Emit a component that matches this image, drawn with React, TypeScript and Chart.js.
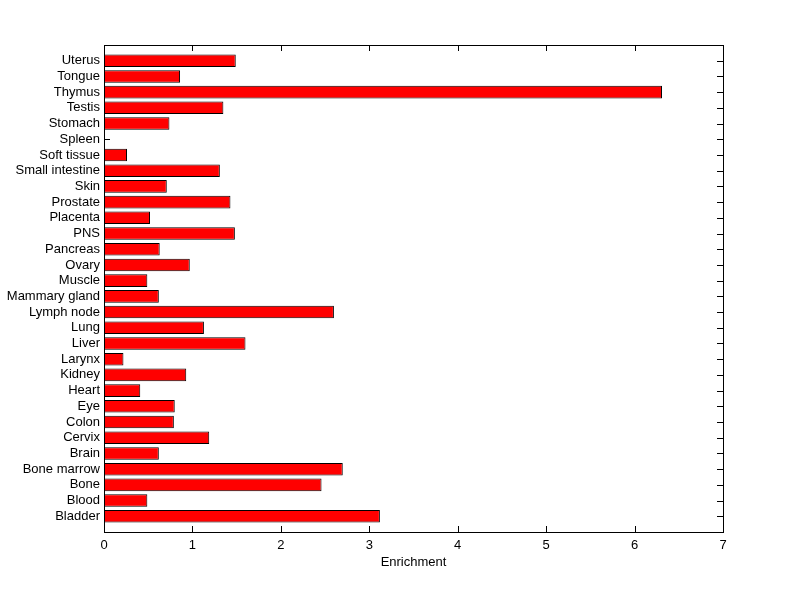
import React, { useEffect, useRef } from "react";
import { Chart, registerables } from "chart.js";

Chart.register(...registerables);

// Categories in bottom-to-top order (as plotted from the origin upward)
const categories: string[] = [
  "Bladder", "Blood", "Bone", "Bone marrow", "Brain", "Cervix", "Colon", "Eye",
  "Heart", "Kidney", "Larynx", "Liver", "Lung", "Lymph node", "Mammary gland",
  "Muscle", "Ovary", "Pancreas", "PNS", "Placenta", "Prostate", "Skin",
  "Small intestine", "Soft tissue", "Spleen", "Stomach", "Testis", "Thymus",
  "Tongue", "Uterus",
];

const enrichment: number[] = [
  3.12, 0.49, 2.46, 2.70, 0.62, 1.19, 0.79, 0.80,
  0.41, 0.93, 0.22, 1.60, 1.13, 2.60, 0.62,
  0.49, 0.97, 0.63, 1.48, 0.52, 1.43, 0.71,
  1.31, 0.26, 0.0, 0.74, 1.35, 6.31,
  0.86, 1.49,
];

const xTicks: number[] = [0, 1, 2, 3, 4, 5, 6, 7];
const xTitle = "Enrichment";

const FONT = '"Liberation Sans", Arial, Helvetica, sans-serif';

export default function App() {
  const ref = useRef<HTMLCanvasElement | null>(null);

  useEffect(() => {
    const canvas = ref.current;
    if (!canvas) return;
    const labels = ["", ...categories, ""];
    const data = [null, ...enrichment, null];

    const boxPlugin = {
      id: "matlabBox",
      beforeDatasetsDraw(chart: any) {
        const ctx = chart.ctx;
        const { left, right, top, bottom } = chart.chartArea;
        const xs = chart.scales.x;
        const ys = chart.scales.y;
        const len = 6;
        ctx.save();
        ctx.strokeStyle = "#000";
        ctx.lineWidth = 1;
        ctx.beginPath();
        xTicks.forEach((v) => {
          const px = Math.round(xs.getPixelForValue(v)) + 0.5;
          ctx.moveTo(px, bottom);
          ctx.lineTo(px, bottom - len);
          ctx.moveTo(px, top);
          ctx.lineTo(px, top + len);
        });
        categories.forEach((_, i) => {
          const py = Math.round(ys.getPixelForValue(i + 1)) + 0.5;
          ctx.moveTo(left, py);
          ctx.lineTo(left + len, py);
          ctx.moveTo(right, py);
          ctx.lineTo(right - len, py);
        });
        ctx.stroke();
        ctx.restore();
      },
      afterDatasetsDraw(chart: any) {
        const ctx = chart.ctx;
        const { left, right, top, bottom } = chart.chartArea;
        ctx.save();
        ctx.strokeStyle = "#000";
        ctx.lineWidth = 1;
        ctx.strokeRect(left + 0.5, top + 0.5, right - left, bottom - top);
        ctx.restore();
      },
    };

    const chart = new Chart(canvas, {
      type: "bar",
      data: {
        labels,
        datasets: [
          {
            data: data as any,
            backgroundColor: "#ff0000",
            borderColor: "#000000",
            borderWidth: 1,
            barPercentage: 0.8,
            categoryPercentage: 1,
            borderSkipped: false,
          },
        ],
      },
      options: {
        indexAxis: "y",
        animation: false,
        responsive: false,
        devicePixelRatio: 1,
        layout: { padding: { top: 45, right: 77, left: 0, bottom: 0 } },
        plugins: {
          legend: { display: false },
          tooltip: { enabled: false },
        },
        scales: {
          x: {
            type: "linear",
            min: 0,
            max: 7,
            afterFit(scale: any) {
              scale.height = 67;
            },
            afterBuildTicks(scale: any) {
              scale.ticks = xTicks.map((v) => ({ value: v }));
            },
            grid: { display: false, drawTicks: false },
            border: { display: false },
            ticks: {
              color: "#000",
              font: { family: FONT, size: 13 },
              padding: 6,
              maxRotation: 0,
            },
            title: {
              display: true,
              text: xTitle,
              color: "#000",
              font: { family: FONT, size: 13 },
              padding: { top: 0, bottom: 29 },
            },
          },
          y: {
            type: "category",
            reverse: true,
            offset: false,
            afterFit(scale: any) {
              scale.width = 104;
            },
            grid: { display: false, drawTicks: false },
            border: { display: false },
            ticks: {
              color: "#000",
              font: { family: FONT, size: 13 },
              padding: 4,
              autoSkip: false,
            },
          },
        },
      },
      plugins: [boxPlugin],
    });
    return () => chart.destroy();
  }, []);

  return (
    <div style={{ position: "absolute", left: 0, top: 0, width: 800, height: 599, background: "#fff" }}>
      <canvas ref={ref} width={800} height={599} style={{ display: "block" }} />
    </div>
  );
}
